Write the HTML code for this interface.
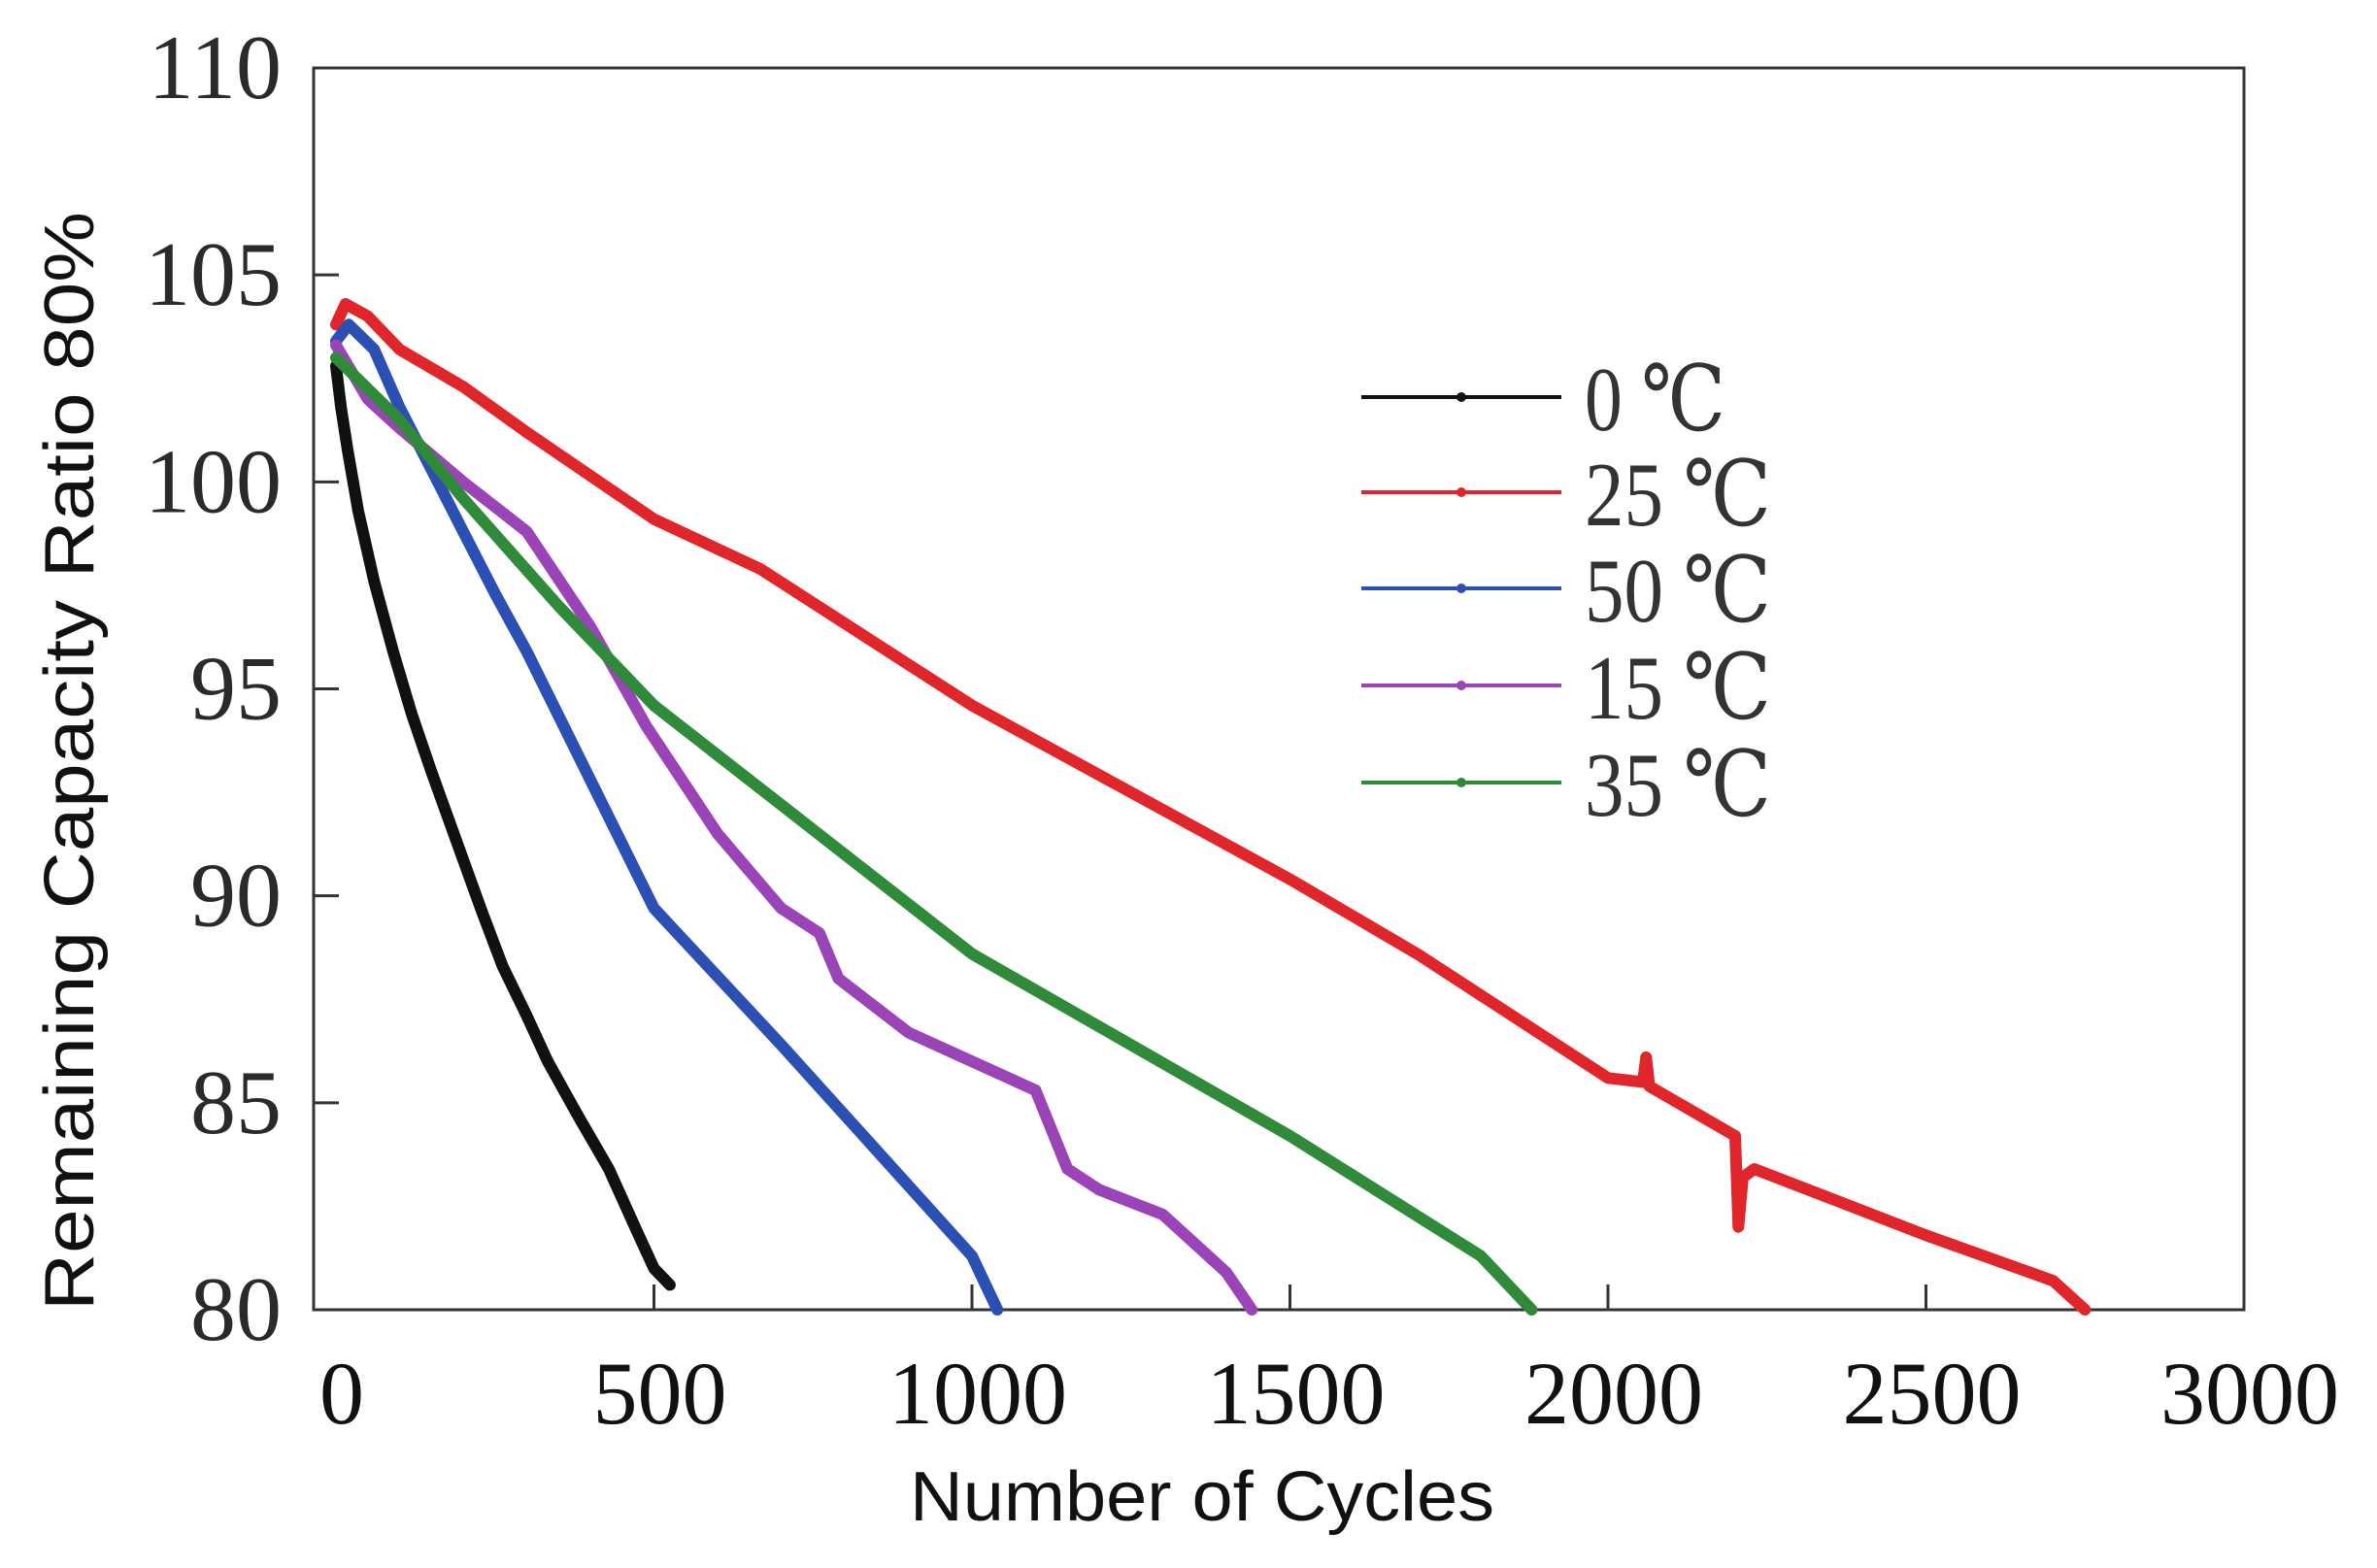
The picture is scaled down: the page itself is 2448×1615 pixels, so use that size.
<!DOCTYPE html>
<html><head><meta charset="utf-8"><style>
html,body{margin:0;padding:0;background:#fff}
svg{display:block}
</style></head><body>
<svg id="chart" width="2448" height="1615" viewBox="0 0 2448 1615" xmlns="http://www.w3.org/2000/svg">
<rect width="2448" height="1615" fill="#fff"/>
<g id="plot"></g>
</svg>
<script>
const xTicks=[0,500,1000,1500,2000,2500,3000];
const yTicks=[80,85,90,95,100,105,110];
const seriesNames=["0 ℃","25 ℃","50 ℃","15 ℃","35 ℃"];
const seriesColors=["#111111","#e0262a","#2c4fb3","#9a44b8","#2f8a3a"];
const c0x=[0,8,18,35,60,90,119,150,190,230,262,300,333,380,429,470,500,525];
const c0y=[102.8,101.8,100.8,99.3,97.6,95.9,94.4,93.0,91.3,89.6,88.3,87.1,86.0,84.7,83.4,82.0,81.0,80.6];
const c25x=[0,15,50,100,200,300,500,667,1000,1500,1700,2000,2055,2060,2065,2200,2205,2212,2230,2500,2700,2750];
const c25y=[103.8,104.3,104.0,103.2,102.3,101.2,99.1,97.9,94.6,90.4,88.6,85.6,85.5,86.1,85.4,84.2,82.0,83.2,83.4,81.8,80.7,80];
const c50x=[0,20,60,100,150,200,250,300,400,500,700,1000,1040];
const c50y=[103.4,103.8,103.2,101.8,100.3,98.8,97.3,95.9,92.8,89.7,86.4,81.3,80];
const c15x=[0,50,100,200,300,400,488,600,700,760,790,900,1100,1150,1200,1300,1400,1440];
const c15y=[103.3,102.0,101.3,100.0,98.8,96.5,94.1,91.5,89.7,89.1,88.0,86.7,85.3,83.4,82.9,82.3,80.9,80];
const c35x=[0,100,200,350,500,700,1000,1500,1800,1880];
const c35y=[103.0,101.5,99.6,97.0,94.6,92.2,88.6,84.2,81.3,80];

const L=323,R=2311,T=70,B=1349;
const X=v=>346+(v)*(2311-346)/3000;
const Y=v=>B-(v-80)*(B-T)/30;
const NS="http://www.w3.org/2000/svg";
const g=document.getElementById('plot');
function mk(tag,attrs){const e=document.createElementNS(NS,tag);for(const k in attrs)e.setAttribute(k,attrs[k]);g.appendChild(e);return e;}

const frame=mk('rect',{x:L,y:T,width:R-L,height:B-T,fill:'none',stroke:'#333',"stroke-width":3});



yTicks.forEach(v=>{
  const t=mk('line',{x1:L,x2:L+26,y1:Y(v),y2:Y(v),stroke:'#333',"stroke-width":3});
  
  
  const s=mk('text',{x:290,y:Y(v)+31,"text-anchor":"end","font-family":"Liberation Serif, serif","font-size":94,fill:'#2a2a2a'});
  s.textContent=v;
  
  
});
xTicks.forEach(v=>{
  if(v>0&&v<3000){
  const t=mk('line',{x1:X(v),x2:X(v),y1:B,y2:B-26,stroke:'#333',"stroke-width":3});
  
  }
  const s=mk('text',{x:X(v)+6,y:1466,"text-anchor":"middle","font-family":"Liberation Serif, serif","font-size":92,fill:'#111'});
  s.textContent=v;
  
  
});

const xs=[c0x,c25x,c50x,c15x,c35x], ys=[c0y,c25y,c50y,c15y,c35y];
[0,1,2,3,4].forEach(i=>{
  const pts=xs[i].map((x,j)=>X(x).toFixed(1)+','+Y(ys[i][j]).toFixed(1)).join(' ');
  const p=mk('polyline',{points:pts,fill:'none',stroke:seriesColors[i],"stroke-width":12,"stroke-linejoin":"round","stroke-linecap":"round"});
  
  
});

const legY=[409,507,606,706,806];
seriesNames.forEach((n,i)=>{
  const l=mk('line',{x1:1402,x2:1608,y1:legY[i],y2:legY[i],stroke:seriesColors[i],"stroke-width":4});
  
  
  const d=mk('circle',{cx:1505,cy:legY[i],r:5,fill:seriesColors[i]});
  
  
  const s=mk('text',{x:1632,y:legY[i]+34,"font-family":"Liberation Serif, DejaVu Serif, serif","font-size":94,fill:'#333',textLength:(i===0?145:192),lengthAdjust:'spacingAndGlyphs'});
  s.textContent=n;
  
  
});

const xt=mk('text',{x:1238,y:1566,"text-anchor":"middle","font-family":"Liberation Sans, sans-serif","font-size":72,fill:'#111',textLength:602,lengthAdjust:'spacingAndGlyphs'});
xt.textContent='Number of Cycles';


const yt=mk('text',{x:0,y:0,"text-anchor":"middle","font-family":"Liberation Sans, sans-serif","font-size":72,fill:'#111',textLength:1132,lengthAdjust:'spacingAndGlyphs',transform:'translate(96,784) rotate(-90)'});
yt.textContent='Remaining Capacity Ratio 80%';


</script>
</body></html>
